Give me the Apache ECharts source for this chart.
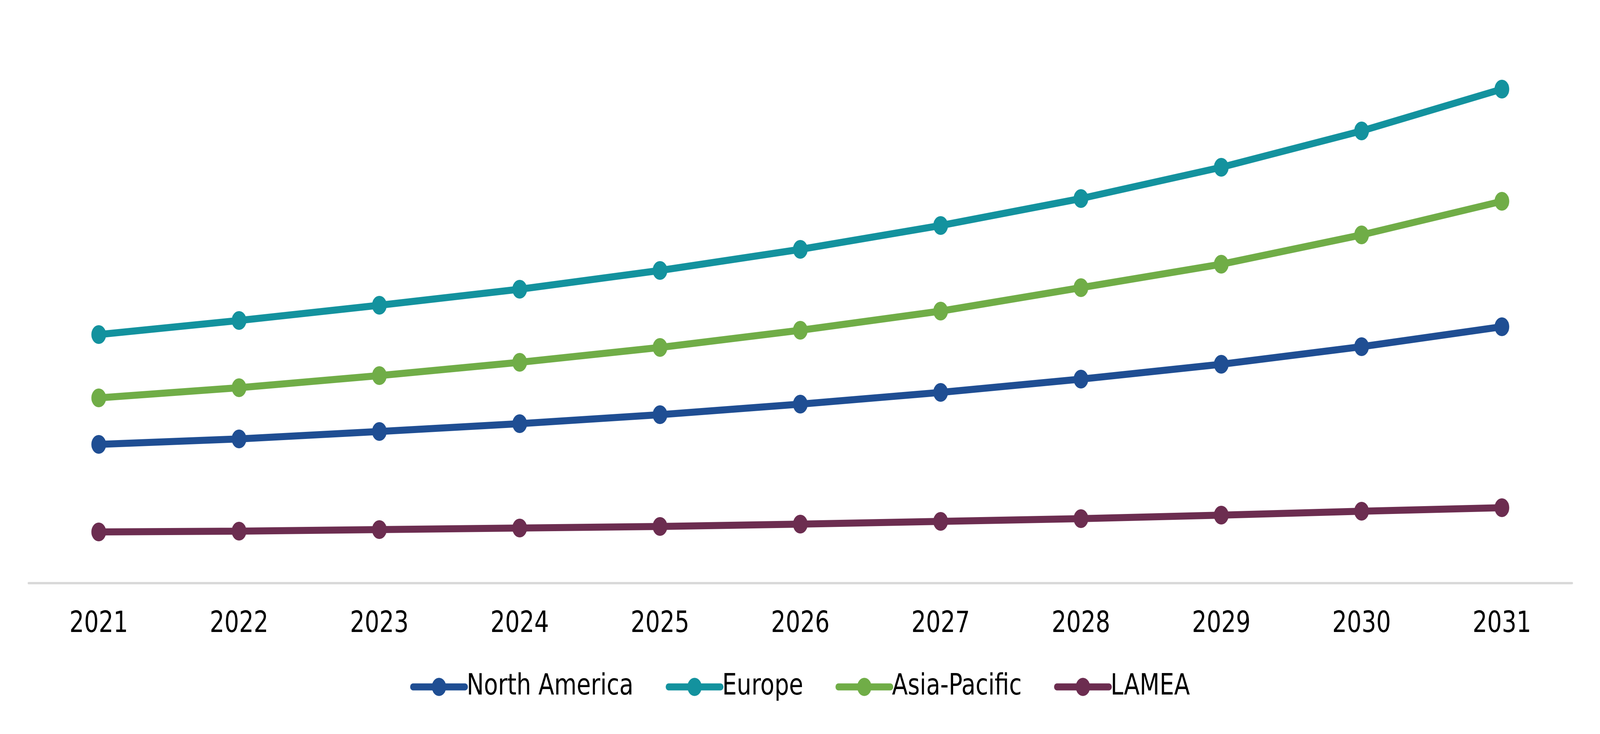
<!DOCTYPE html>
<html>
<head>
<meta charset="utf-8">
<title>Regional market trend 2021-2031</title>
<script src="https://cdn.jsdelivr.net/npm/echarts@6/dist/echarts.min.js"></script>
<style>
    html, body { margin: 0; padding: 0; background: #fff; overflow: hidden; }
    #chart { width: 5209px; height: 1878px; transform-origin: 0 0; }
</style>
</head>
<body>
<div id="chart"></div>
<script>
// values (no axis shown, arbitrary units)
const years = ['2021', '2022', '2023', '2024', '2025', '2026', '2027', '2028', '2029', '2030', '2031'];
const northAmerica = [35.5, 36.9, 38.8, 40.8, 43.1, 45.8, 48.8, 52.2, 56.0, 60.5, 65.6];
const europe = [63.6, 67.2, 71.1, 75.2, 80.0, 85.4, 91.5, 98.4, 106.4, 115.7, 126.4];
const asiaPacific = [47.4, 50.0, 53.1, 56.5, 60.3, 64.7, 69.6, 75.6, 81.6, 89.1, 97.7];
const lamea = [13.1, 13.3, 13.7, 14.1, 14.5, 15.1, 15.8, 16.5, 17.4, 18.4, 19.3];

const font = '"DejaVu Sans", Verdana, sans-serif';

// the chart is laid out at the reference size and squeezed to fit the window
const dom = document.getElementById('chart');
dom.style.transform = 'scale(' + (window.innerWidth / 5209) + ',' + (window.innerHeight / 1878) + ')';

let chart = echarts.init(dom, null, {
    renderer: 'canvas'
});

function lineSeries(name, color, data) {
    return {
        name: name,
        type: 'line',
        data: data,
        symbol: 'circle',
        symbolSize: 48,
        lineStyle: { width: 18, color: color },
        itemStyle: { color: color },
        emphasis: { disabled: true },
        animation: false
    };
}

chart.setOption({
    backgroundColor: '#fff',
    textStyle: { fontFamily: font },
    grid: {
        left: 93,
        right: 91,
        top: 92,
        bottom: 386
    },
    legend: {
        left: 'center',
        top: 1715,
        itemWidth: 170,
        itemHeight: 58,
        itemGap: 105,
        lineStyle: { width: 18, cap: 'round' },
        textStyle: {
            fontFamily: font,
            fontSize: 75,
            color: '#000'
        },
        data: ['North America', 'Europe', 'Asia-Pacific', 'LAMEA']
    },
    xAxis: {
        type: 'category',
        data: years,
        boundaryGap: true,
        axisLine: { lineStyle: { color: '#d9d9d9', width: 6 } },
        axisTick: { show: false },
        axisLabel: {
            margin: 68,
            fontFamily: font,
            fontSize: 75,
            color: '#000'
        },
        splitLine: { show: false }
    },
    yAxis: {
        type: 'value',
        min: 0,
        max: 140,
        show: false,
        splitLine: { show: false }
    },
    series: [
        lineSeries('North America', '#1f4e93', northAmerica),
        lineSeries('Europe', '#13929e', europe),
        lineSeries('Asia-Pacific', '#70ad47', asiaPacific),
        lineSeries('LAMEA', '#6c2d50', lamea)
    ]
});
</script>
</body>
</html>
